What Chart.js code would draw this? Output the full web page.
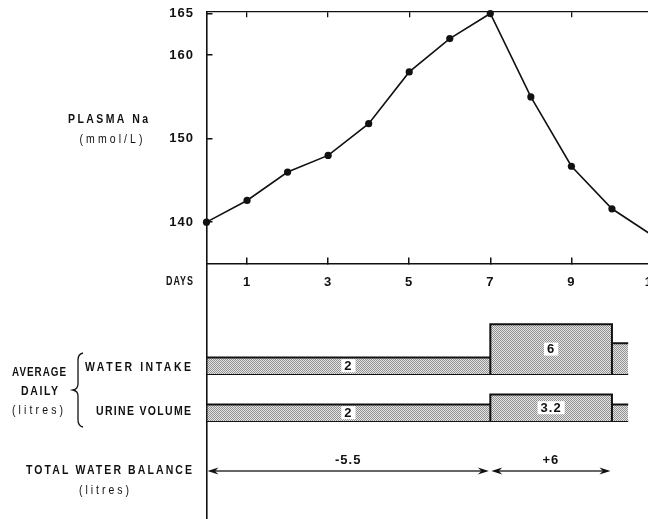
<!DOCTYPE html>
<html>
<head>
<meta charset="utf-8">
<script src="https://cdn.jsdelivr.net/npm/chart.js@4/dist/chart.umd.min.js"></script>
<style>
  html, body { margin: 0; padding: 0; background: #fff; overflow: hidden; width: 648px; height: 519px; }
  canvas { display: block; }
</style>
</head>
<body>
<canvas id="chart" width="680" height="523"></canvas>
<script>
// Plasma sodium (mmol/L) on each day
const naDays   = [0, 1, 2, 3, 4, 5, 6, 7, 8, 9, 10, 11];
const naValues = [140, 142.6, 146, 148, 151.8, 158, 162, 165, 155, 146.7, 141.6, 138.4];
const naTicks  = [140, 150, 160, 165];
const dayTicks = [1, 3, 5, 7, 9, 11];
const dayMarks = [1, 3, 5, 7, 9];

// Average daily volumes (litres) in each period
const periodStart    = [0, 7, 10];
const periodEnd      = [7, 10, 10.4];
const waterIntake    = [2, 6, 3.7];
const urineVolume    = [2, 3.2, 2];
const periodLabelled = [true, true, false];

// Total water balance (litres) over each period
const balanceStart  = [0, 7];
const balanceEnd    = [7, 10];
const balanceValues = [-5.5, 6];

const FONT = '"Liberation Sans", Arial, sans-serif';
const INK = '#111';

// Axis ranges: the Na scale owns the upper panel, the volume rows sit below it
const NA_MAX = 165.18, NA_MIN = 104.43, DAYS_AXIS_AT = 134.97;

function stipple() {
  const c = document.createElement('canvas');
  c.width = 2; c.height = 2;
  const g = c.getContext('2d');
  g.fillStyle = '#e6e6e6'; g.fillRect(0, 0, 2, 2);
  g.fillStyle = '#909090'; g.fillRect(0, 0, 1, 1); g.fillRect(1, 1, 1, 1);
  return g.createPattern(c, 'repeat');
}

// Outline of consecutive period blocks: rises at each period start, drops back to zero between blocks
function stepOutline(values) {
  const pts = [];
  values.forEach((v, i) => {
    pts.push({ x: periodStart[i], y: 0 }, { x: periodStart[i], y: v }, { x: periodEnd[i], y: v });
    if (i < values.length - 1) pts.push({ x: periodEnd[i], y: 0 });
  });
  return pts;
}
function baseline() {
  return [{ x: periodStart[0], y: 0 }, { x: periodEnd[periodEnd.length - 1], y: 0 }];
}

// Condensed, letter-spaced lettering that spans a given width
function spacedText(ctx, text, x, y, align, width) {
  ctx.letterSpacing = '0px';
  const w0 = ctx.measureText(text).width;
  const n = text.length;
  const k = Math.min(0.84, (width - (n - 1) * 1) / w0);
  const ls = n > 1 ? (width - w0 * k) / (n - 1) : 0;
  const left = align === 'right' ? x - width : align === 'center' ? x - width / 2 : x;
  ctx.save();
  ctx.translate(left, y);
  ctx.scale(k, 1);
  ctx.letterSpacing = (ls / k) + 'px';
  ctx.textAlign = 'left';
  ctx.fillText(text, 0, 0);
  ctx.restore();
}

function arrowHead(ctx, tipX, y, dir) {
  ctx.beginPath();
  ctx.moveTo(tipX, y);
  ctx.lineTo(tipX - dir * 11, y - 3.5);
  ctx.lineTo(tipX - dir * 7.5, y);
  ctx.lineTo(tipX - dir * 11, y + 3.5);
  ctx.closePath();
  ctx.fill();
}

// keep axis label padding from shrinking the plotting area
function noPadding(s) {
  s.paddingTop = 0; s.paddingBottom = 0; s.paddingLeft = 0; s.paddingRight = 0;
}

const annotate = {
  id: 'annotate',
  beforeDraw(chart) {
    chart.ctx.letterSpacing = '1px';
  },
  afterDatasetsDraw(chart) {
    const { ctx, scales } = chart;
    const x = scales.x;
    ctx.save();
    ctx.font = 'bold 13px ' + FONT;
    ctx.textBaseline = 'middle';
    ctx.letterSpacing = '1px';

    // value labels inside the period blocks
    [[waterIntake, scales.yIn], [urineVolume, scales.yUr]].forEach(([vals, ys]) => {
      vals.forEach((v, i) => {
        if (!periodLabelled[i]) return;
        const cx = x.getPixelForValue((periodStart[i] + periodEnd[i]) / 2);
        const cy = (ys.getPixelForValue(0) + ys.getPixelForValue(v)) / 2;
        const t = String(v);
        const w = ctx.measureText(t).width + 6;
        ctx.fillStyle = '#fff';
        ctx.fillRect(cx - w / 2, cy - 6.5, w, 13);
        ctx.fillStyle = INK;
        ctx.textAlign = 'center';
        ctx.fillText(t, cx, cy + 0.5);
      });
    });

    // water balance arrows
    const by = scales.yBal.getPixelForValue(0);
    ctx.strokeStyle = '#333';
    ctx.fillStyle = INK;
    ctx.lineWidth = 1.5;
    balanceValues.forEach((v, i) => {
      const x1 = x.getPixelForValue(balanceStart[i]) + 1;
      const x2 = x.getPixelForValue(balanceEnd[i]) - 1.5;
      ctx.beginPath();
      ctx.moveTo(x1 + 6, by);
      ctx.lineTo(x2 - 6, by);
      ctx.stroke();
      arrowHead(ctx, x1, by, -1);
      arrowHead(ctx, x2, by, 1);
      const t = v > 0 ? '+' + v : String(v);
      ctx.textAlign = 'center';
      ctx.fillText(t, (x1 + x2) / 2, by - 11);
    });
    ctx.restore();
  },
  afterDraw(chart) {
    const ctx = chart.ctx;
    ctx.save();
    ctx.fillStyle = INK;
    ctx.textBaseline = 'middle';
    const bold = 'bold 12.5px ' + FONT;
    const light = '12.5px ' + FONT;

    ctx.font = bold;
    spacedText(ctx, 'PLASMA Na', 108, 120, 'center', 80);
    ctx.font = light;
    spacedText(ctx, '(mmol/L)', 111, 140, 'center', 63);

    ctx.font = bold;
    spacedText(ctx, 'DAYS', 193, 282, 'right', 27);
    spacedText(ctx, 'WATER INTAKE', 191, 368, 'right', 106);
    spacedText(ctx, 'URINE VOLUME', 191, 412, 'right', 95);
    spacedText(ctx, 'AVERAGE', 39, 373, 'center', 54);
    spacedText(ctx, 'DAILY', 39.5, 391.5, 'center', 37);
    spacedText(ctx, 'TOTAL WATER BALANCE', 192, 471, 'right', 166);
    ctx.font = light;
    spacedText(ctx, '(litres)', 37.5, 411, 'center', 51);
    spacedText(ctx, '(litres)', 104, 491, 'center', 50);

    // brace grouping the two daily rows
    ctx.strokeStyle = INK;
    ctx.lineWidth = 1.3;
    ctx.beginPath();
    ctx.moveTo(83, 353);
    ctx.quadraticCurveTo(78, 354, 78, 360);
    ctx.lineTo(78, 384);
    ctx.quadraticCurveTo(78, 389, 73, 390);
    ctx.quadraticCurveTo(78, 391, 78, 396);
    ctx.lineTo(78, 420);
    ctx.quadraticCurveTo(78, 426, 83, 427);
    ctx.stroke();
    ctx.restore();
  }
};

const pattern = stipple();
const tickFont = { family: FONT, size: 13, weight: 'bold' };

new Chart(document.getElementById('chart'), {
  type: 'line',
  data: {
    datasets: [
      {
        label: 'Plasma Na',
        xAxisID: 'x', yAxisID: 'yNa',
        data: naDays.map((d, i) => ({ x: d, y: naValues[i] })),
        borderColor: INK, borderWidth: 1.6, tension: 0,
        pointRadius: 3.6, pointBackgroundColor: INK, pointBorderWidth: 0,
        clip: false
      },
      {
        label: 'Water intake',
        xAxisID: 'x', yAxisID: 'yIn',
        data: stepOutline(waterIntake),
        borderColor: INK, borderWidth: 2, pointRadius: 0, tension: 0,
        fill: 'origin', backgroundColor: pattern
      },
      {
        label: 'Water intake base',
        xAxisID: 'x', yAxisID: 'yIn',
        data: baseline(),
        borderColor: INK, borderWidth: 2, pointRadius: 0
      },
      {
        label: 'Urine volume',
        xAxisID: 'x', yAxisID: 'yUr',
        data: stepOutline(urineVolume),
        borderColor: INK, borderWidth: 2, pointRadius: 0, tension: 0,
        fill: 'origin', backgroundColor: pattern
      },
      {
        label: 'Urine volume base',
        xAxisID: 'x', yAxisID: 'yUr',
        data: baseline(),
        borderColor: INK, borderWidth: 2, pointRadius: 0
      }
    ]
  },
  options: {
    responsive: false,
    animation: false,
    events: [],
    layout: { padding: { left: 0, top: 12, right: 27.5, bottom: 0 } },
    plugins: { legend: { display: false }, tooltip: { enabled: false } },
    scales: {
      x: {
        axis: 'x', type: 'linear', min: 0, max: 11,
        position: { yNa: DAYS_AXIS_AT },
        afterBuildTicks: s => { s.ticks = dayTicks.map(v => ({ value: v })); },
        afterFit: s => { s.height = 0; noPadding(s); },
        grid: { drawOnChartArea: false, drawTicks: true, tickLength: -7, color: INK, lineWidth: 1.5 },
        border: { color: INK, width: 1.6 },
        ticks: { color: INK, font: tickFont, padding: 17, maxRotation: 0, autoSkip: false }
      },
      xTop: {
        axis: 'x', type: 'linear', min: 0, max: 11,
        position: { yNa: NA_MAX },
        afterBuildTicks: s => { s.ticks = dayMarks.map(v => ({ value: v })); },
        afterFit: s => { s.height = 0; noPadding(s); },
        grid: { drawOnChartArea: false, drawTicks: true, tickLength: 5, color: INK, lineWidth: 1.3 },
        border: { color: INK, width: 1.3 },
        ticks: { display: false }
      },
      yNa: {
        axis: 'y', type: 'linear', position: 'left', min: NA_MIN, max: NA_MAX,
        afterBuildTicks: s => { s.ticks = naTicks.map(v => ({ value: v })); },
        afterFit: s => { s.width = 206.5; noPadding(s); },
        grid: { drawOnChartArea: false, drawTicks: true, tickLength: -6, color: INK, lineWidth: 1.5 },
        border: { color: INK, width: 1.6 },
        ticks: { color: INK, font: tickFont, padding: 18.5 }
      },
      yIn:  { axis: 'y', display: false, min: -17.47, max: 43.61 },
      yUr:  { axis: 'y', display: false, min: -11.81, max: 49.28 },
      yBal: { axis: 'y', display: false, min: -48, max: 459 }
    }
  },
  plugins: [annotate]
});
</script>
</body>
</html>
